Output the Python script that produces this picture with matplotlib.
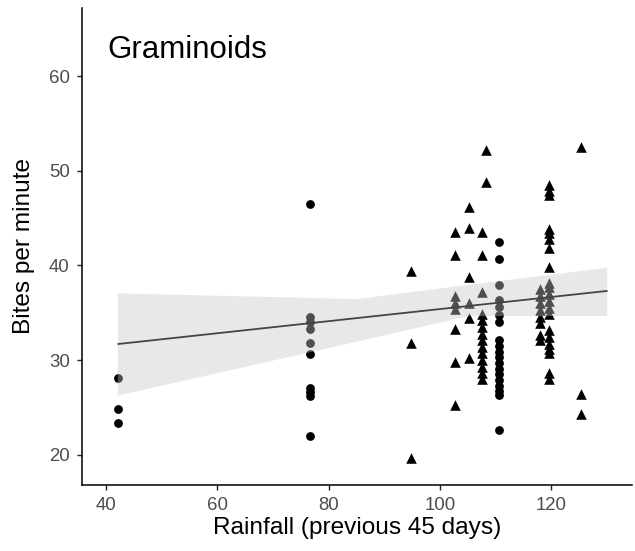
import matplotlib
matplotlib.use("Agg")
import matplotlib.pyplot as plt
import numpy as np

plt.rcParams['font.family'] = ['Liberation Sans', 'DejaVu Sans']

# circles (one group), rainfall value and bites per minute for each column
circle_rain = [42.2, 76.7, 110.6]
circle_bites = [
    [28.1, 24.8, 23.3],
    [46.5, 34.5, 34.0, 33.3, 31.8, 30.6, 27.0, 26.6, 26.2, 22.0],
    [42.5, 40.7, 37.9, 36.3, 35.6, 34.8, 34.0, 32.1, 31.5, 30.9, 30.3,
     29.7, 29.1, 28.5, 27.9, 27.3, 26.7, 26.3, 22.6],
]

# triangles (other group)
tri_rain = [94.9, 102.8, 105.2, 107.6, 108.3, 118.1, 119.6, 125.3]
tri_bites = [
    [39.4, 31.8, 19.6],
    [43.5, 41.1, 36.8, 36.0, 35.4, 33.3, 29.8, 25.3],
    [46.2, 44.0, 38.8, 36.0, 34.4, 30.2],
    [43.5, 41.1, 37.2, 34.9, 34.2, 33.5, 32.8, 32.1, 31.4, 30.7, 30.0,
     29.3, 28.6, 28.0],
    [52.2, 48.8],
    [37.5, 36.8, 36.0, 35.3, 34.6, 33.9, 32.6, 32.1],
    [48.5, 47.9, 47.4, 43.9, 43.4, 42.8, 41.8, 39.8, 38.1, 37.7, 37.0,
     36.2, 35.5, 34.9, 33.2, 32.4, 31.7, 31.2, 30.7, 28.6, 28.0],
    [52.5, 26.4, 24.3],
]

# fitted line and confidence band
fit_x = [42.2, 130.0]
fit_y = [31.7, 37.3]
band_x = [42.0, 85.0, 105.0, 130.0]
band_lo = [26.3, 32.0, 34.7, 34.7]
band_hi = [37.1, 36.5, 38.0, 39.8]

fig = plt.figure(figsize=(6.35, 5.51), dpi=100)
ax = fig.add_axes([0.1287, 0.1198, 0.8661, 0.8657])

# flatten columns into x/y
cx = [r for r, b in zip(circle_rain, circle_bites) for _ in b]
cy = [v for b in circle_bites for v in b]
tx = [r for r, b in zip(tri_rain, tri_bites) for _ in b]
ty = [v for b in tri_bites for v in b]

ax.scatter(cx, cy, marker='o', s=40, color='black', linewidths=0, zorder=2)
ax.scatter(tx, ty, marker='^', s=58, color='black', linewidths=0, zorder=2)

# band drawn over the points, like the original
ax.fill_between(band_x, band_lo, band_hi, color='#c6c6c6', alpha=0.4,
                linewidth=0, zorder=3)
ax.plot(fit_x, fit_y, color='#444444', lw=1.3, zorder=4)

ax.text(40.2, 62.75, 'Graminoids', fontsize=22.5, ha='left', va='center')

ax.set_xlim(35.6, 134.5)
ax.set_ylim(16.8, 67.2)
ax.set_xticks([40, 60, 80, 100, 120])
ax.set_yticks([20, 30, 40, 50, 60])

for s in ['top', 'right']:
    ax.spines[s].set_visible(False)
for s in ['left', 'bottom']:
    ax.spines[s].set_linewidth(1.1)
    ax.spines[s].set_color('black')

ax.tick_params(axis='both', length=3.6, width=1.0, color='#222222',
               labelsize=13.4, labelcolor='#4D4D4D', pad=5)

ax.set_xlabel('Rainfall (previous 45 days)', fontsize=17.6, labelpad=2)
ax.set_ylabel('Bites per minute', fontsize=17.6, labelpad=10)

fig.savefig('out.png', dpi=100)
